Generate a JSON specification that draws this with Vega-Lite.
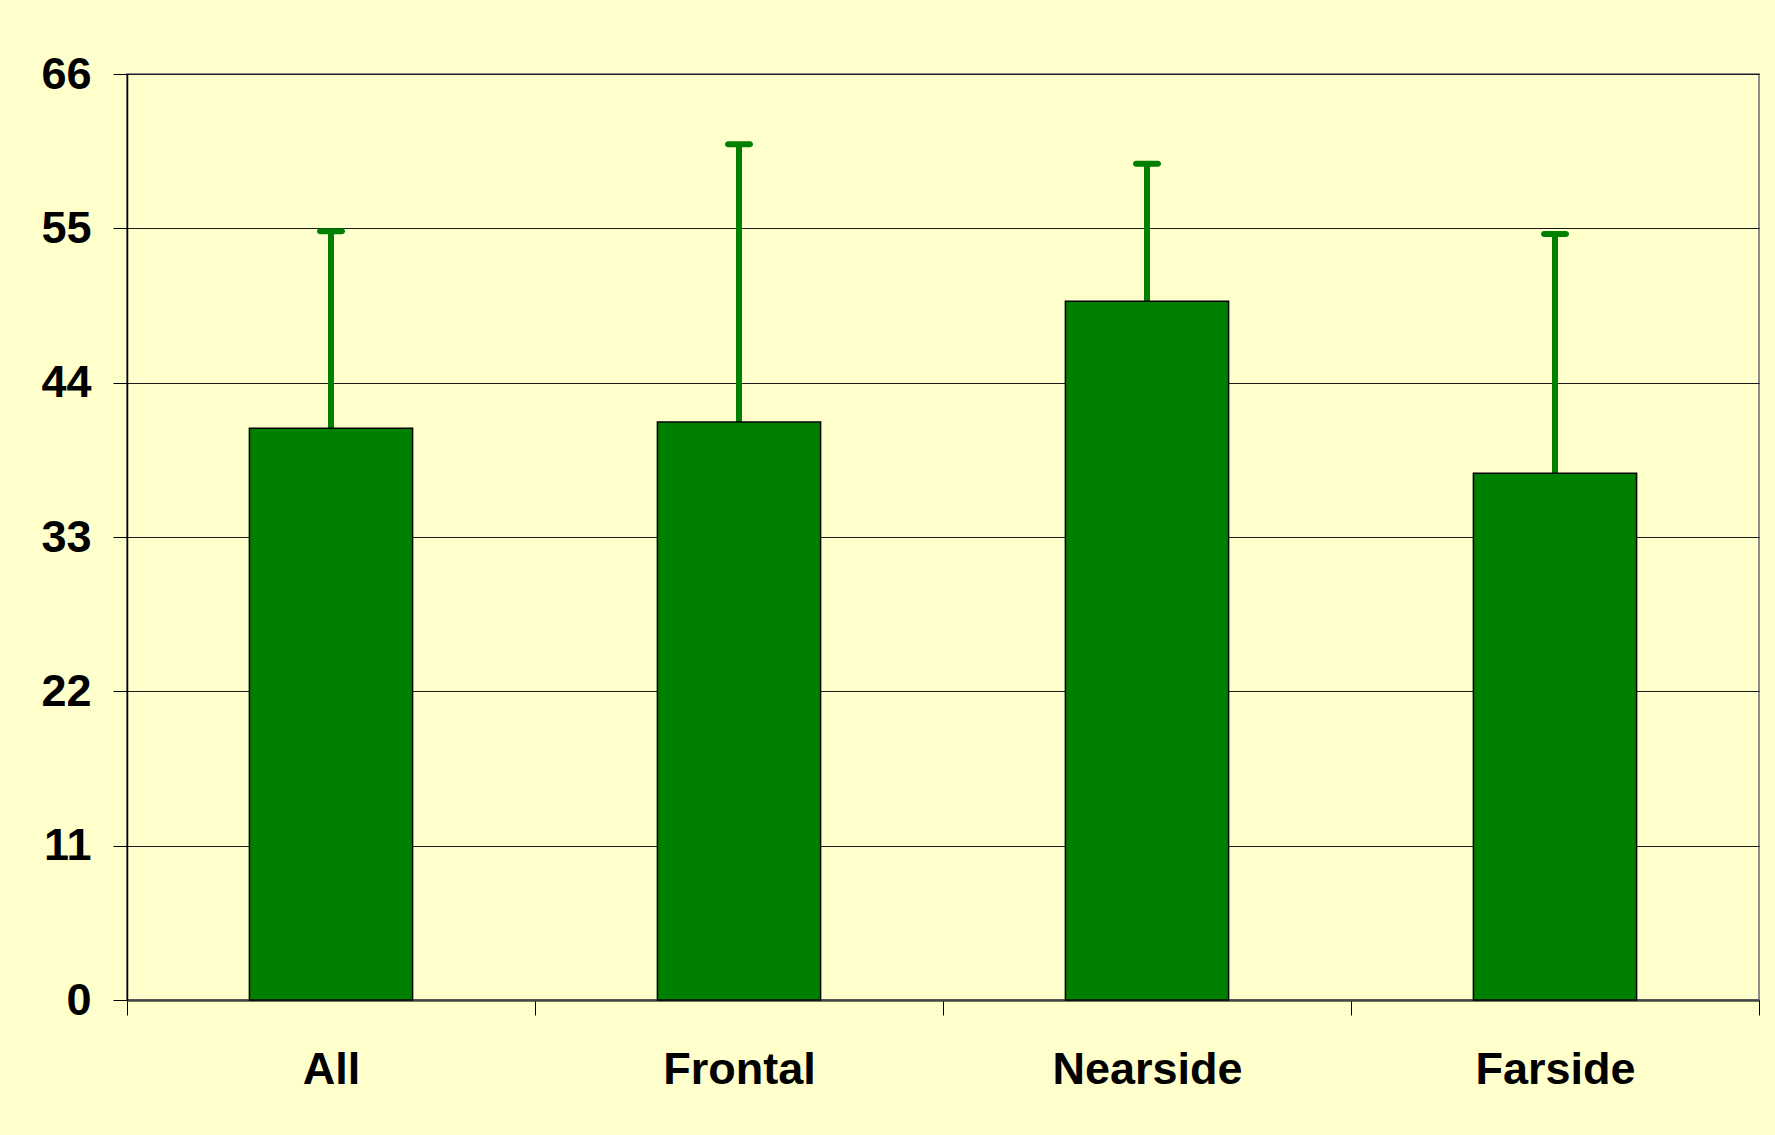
{
  "$schema": "https://vega.github.io/schema/vega-lite/v6.json",
  "width": 1632,
  "height": 926,
  "autosize": {"type": "none"},
  "padding": {"left": 127, "top": 74, "right": 16, "bottom": 135},
  "background": "#FFFFCC",
  "config": {"view": {"stroke": "#8c8c8c", "strokeWidth": 2}, "font": "Liberation Sans"},
  "data": {"values": [
    {"cat": "All", "mean": 40.75, "upper": 54.8},
    {"cat": "Frontal", "mean": 41.2, "upper": 61.0},
    {"cat": "Nearside", "mean": 49.8, "upper": 59.6},
    {"cat": "Farside", "mean": 37.55, "upper": 54.6}
  ]},
  "encoding": {
    "x": {
      "field": "cat", "type": "nominal", "sort": null,
      "scale": {"paddingInner": 0, "paddingOuter": 0},
      "axis": {
        "title": null, "labelAngle": 0, "tickBand": "extent", "tickSize": 15,
        "tickColor": "#000", "domainColor": "#444", "domainWidth": 2.5,
        "labelFont": "Liberation Sans", "labelFontSize": 45, "labelFontWeight": "bold",
        "labelColor": "#000", "labelPadding": 32, "labelLimit": 0, "grid": false
      }
    }
  },
  "layer": [
    {
      "mark": {"type": "rule", "color": "#008000", "strokeWidth": 6},
      "encoding": {
        "y": {"field": "mean", "type": "quantitative", "scale": {"domain": [0, 66], "nice": false}},
        "y2": {"field": "upper"}
      }
    },
    {
      "mark": {"type": "tick", "color": "#008000", "thickness": 6, "size": 28, "cornerRadius": 3, "opacity": 1},
      "encoding": {
        "y": {"field": "upper", "type": "quantitative", "scale": {"domain": [0, 66], "nice": false}}
      }
    },
    {
      "mark": {"type": "bar", "width": {"band": 0.4}, "fill": "#008000", "stroke": "#000", "strokeWidth": 1.5},
      "encoding": {
        "y": {
          "field": "mean", "type": "quantitative",
          "scale": {"domain": [0, 66], "nice": false},
          "axis": {
            "values": [0, 11, 22, 33, 44, 55, 66], "title": null,
            "labelFont": "Liberation Sans", "labelFontWeight": "bold", "labelFontSize": 45,
            "labelColor": "#000", "tickSize": 14, "tickColor": "#000",
            "domainColor": "#000", "domainWidth": 1.5, "labelPadding": 22,
            "grid": true, "gridColor": "#1a1a1a", "gridWidth": 1.2
          }
        }
      }
    }
  ]
}
